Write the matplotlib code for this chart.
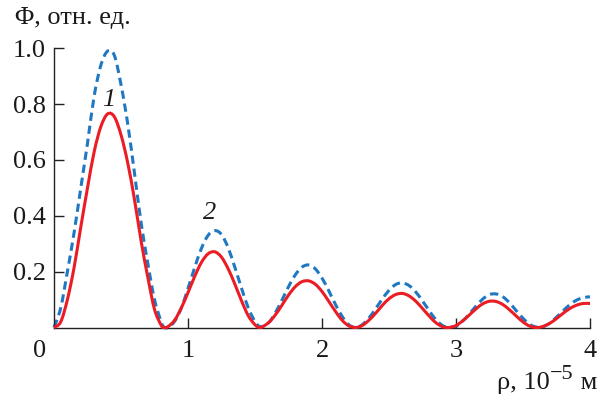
import matplotlib
matplotlib.use("Agg")
import matplotlib.pyplot as plt
from matplotlib.path import Path
from matplotlib.patches import PathPatch

# ---- data ----
rho = [0.00, 0.05, 0.10, 0.15, 0.20, 0.25, 0.30, 0.35, 0.40, 0.45, 0.50, 0.55, 0.60, 0.65, 0.70, 0.75, 0.80, 0.82,
       0.85, 0.90, 0.95, 1.00, 1.05, 1.10, 1.15, 1.20, 1.25, 1.30, 1.35, 1.40, 1.45, 1.50, 1.54,
       1.60, 1.65, 1.70, 1.75, 1.80, 1.85, 1.90, 1.95, 2.00, 2.05, 2.10, 2.15, 2.20, 2.25,
       2.30, 2.35, 2.40, 2.45, 2.50, 2.55, 2.60, 2.65, 2.70, 2.75, 2.80, 2.85, 2.90, 2.945,
       3.00, 3.05, 3.10, 3.15, 3.20, 3.25, 3.30, 3.35, 3.40, 3.45, 3.50, 3.55, 3.605,
       3.65, 3.70, 3.75, 3.80, 3.85, 3.90, 3.95, 4.00]

phi_1 = [0.000, 0.020, 0.100, 0.215, 0.360, 0.500, 0.630, 0.720, 0.765, 0.755, 0.690, 0.590, 0.460, 0.310, 0.180, 0.065, 0.008, 0.000,
         0.003, 0.026, 0.070, 0.125, 0.183, 0.233, 0.264, 0.271, 0.252, 0.210, 0.155, 0.095, 0.042, 0.010, 0.000,
         0.017, 0.044, 0.079, 0.116, 0.146, 0.164, 0.167, 0.155, 0.129, 0.094, 0.058, 0.026, 0.006, 0.000,
         0.007, 0.026, 0.051, 0.079, 0.103, 0.118, 0.122, 0.113, 0.094, 0.068, 0.041, 0.017, 0.003, 0.000,
         0.007, 0.024, 0.045, 0.067, 0.085, 0.094, 0.093, 0.082, 0.063, 0.041, 0.020, 0.005, 0.000,
         0.004, 0.015, 0.032, 0.051, 0.068, 0.080, 0.086, 0.086]

phi_2 = [0.000, 0.070, 0.200, 0.340, 0.500, 0.660, 0.830, 0.940, 0.990, 0.975, 0.870, 0.730, 0.555, 0.375, 0.230, 0.100, 0.020, 0.002,
         0.000, 0.022, 0.070, 0.140, 0.215, 0.283, 0.330, 0.347, 0.333, 0.285, 0.215, 0.140, 0.070, 0.022, 0.003,
         0.016, 0.051, 0.097, 0.146, 0.188, 0.216, 0.224, 0.210, 0.177, 0.132, 0.083, 0.040, 0.010, 0.000,
         0.010, 0.034, 0.067, 0.102, 0.133, 0.154, 0.160, 0.150, 0.127, 0.095, 0.060, 0.028, 0.007, 0.001,
         0.005, 0.023, 0.049, 0.077, 0.102, 0.118, 0.120, 0.110, 0.088, 0.060, 0.033, 0.011, 0.001,
         0.003, 0.016, 0.037, 0.060, 0.082, 0.098, 0.107, 0.110]

curve_labels = ["1", "2"]
label_x = [0.405, 1.164]
label_y = [0.815, 0.41]

x_ticks = [1, 2, 3, 4]
y_ticks = [0.2, 0.4, 0.6, 0.8, 1.0]
y_tick_labels = ["0.2", "0.4", "0.6", "0.8", "1.0"]

plt.rcParams["font.family"] = ["Liberation Serif", "DejaVu Serif"]

W, H = 611, 398
fig = plt.figure(figsize=(W / 100, H / 100), dpi=100)
ax = fig.add_axes([54 / W, 70.5 / H, 536 / W, 279.2 / H])


def smooth_path(xs, ys):
    """Draw the read points as a smooth curve (Catmull-Rom rendered as cubic Bezier)."""
    n = len(xs)
    verts = [(xs[0], ys[0])]
    codes = [Path.MOVETO]
    for i in range(n - 1):
        i0 = max(i - 1, 0)
        i3 = min(i + 2, n - 1)
        c1 = (xs[i] + (xs[i + 1] - xs[i0]) / 6.0, ys[i] + (ys[i + 1] - ys[i0]) / 6.0)
        c2 = (xs[i + 1] - (xs[i3] - xs[i]) / 6.0, ys[i + 1] - (ys[i3] - ys[i]) / 6.0)
        verts += [c1, c2, (xs[i + 1], ys[i + 1])]
        codes += [Path.CURVE4, Path.CURVE4, Path.CURVE4]
    return Path(verts, codes)


blue = PathPatch(smooth_path(rho, phi_2), facecolor="none", edgecolor="#1f78c1", lw=2.2,
                 linestyle=(0, (2.7, 1.6)), clip_on=False, zorder=2, capstyle="butt")
red = PathPatch(smooth_path(rho, phi_1), facecolor="none", edgecolor="#ec1c24", lw=2.2,
                clip_on=False, zorder=3)
ax.add_patch(blue)
ax.add_patch(red)

ax.set_xlim(0, 4)
ax.set_ylim(0, 1.0)
ax.spines["top"].set_visible(False)
ax.spines["right"].set_visible(False)
for s in ("left", "bottom"):
    ax.spines[s].set_linewidth(1.0)
    ax.spines[s].set_color("#222222")

ax.set_xticks(x_ticks)
ax.set_xticklabels([str(t) for t in x_ticks])
ax.set_yticks(y_ticks)
ax.set_yticklabels(y_tick_labels)
ax.tick_params(axis="both", direction="in", length=7, width=1.0, color="#222222",
               labelsize=19, labelcolor="#1a1a1a")
ax.tick_params(axis="x", pad=9)
ax.tick_params(axis="y", pad=6)

# origin label
ax.text(-0.105, -0.045, "0", ha="center", va="top", fontsize=19, color="#1a1a1a")

# curve labels
for t, lx, ly in zip(curve_labels, label_x, label_y):
    ax.text(lx, ly, t, ha="center", va="center", fontsize=19, style="italic", color="#1a1a1a")

# y-axis title
fig.text(15 / W, 1 - 18 / H, "Φ, отн. ед.", ha="left", va="center", fontsize=19, color="#1a1a1a")

# x-axis title with a near full-size superscript, right-aligned at x = 597 px
renderer = fig.canvas.get_renderer()
base_y = 1 - 389 / H
t1 = fig.text(0, base_y, "ρ, 10", ha="left", va="baseline", fontsize=19, color="#1a1a1a")
t2 = fig.text(0, base_y + 10 / H, "−5", ha="left", va="baseline", fontsize=16, color="#1a1a1a")
t3 = fig.text(0, base_y, " м", ha="left", va="baseline", fontsize=19, color="#1a1a1a")
w1 = t1.get_window_extent(renderer).width
w2 = t2.get_window_extent(renderer).width
w3 = t3.get_window_extent(renderer).width
x0 = 597 - (w1 + w2 + w3)
t1.set_x(x0 / W)
t2.set_x((x0 + w1) / W)
t3.set_x((x0 + w1 + w2) / W)

fig.savefig("out.png", dpi=100)
